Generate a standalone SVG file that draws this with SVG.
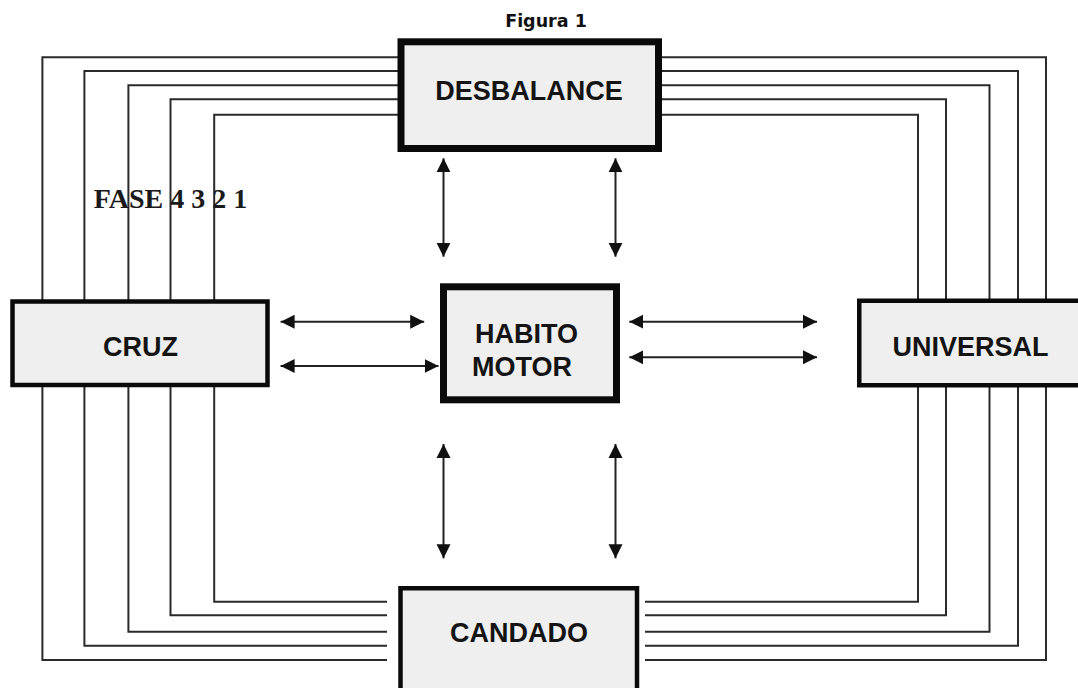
<svg xmlns="http://www.w3.org/2000/svg" width="1078" height="688" viewBox="0 0 1078 688">
  <defs>
    <marker id="ah" markerUnits="userSpaceOnUse" markerWidth="15" markerHeight="15" viewBox="0 0 15 15" refX="14" refY="7.5" orient="auto-start-reverse">
      <path d="M0,0.5 L14,7.5 L0,14.5 Z" fill="#111"/>
    </marker>
  </defs>
  <style>
    .wire { fill: none; stroke: #2a2a2a; stroke-width: 2; }
    .arr { fill: none; stroke: #222; stroke-width: 2; marker-start: url(#ah); marker-end: url(#ah); }
    .box { fill: #efefef; stroke: #0a0a0a; stroke-width: 4.5; }
    .thick { stroke-width: 7; }
    .lbl { font-family: "Liberation Sans", Arial, sans-serif; font-weight: bold; font-size: 27px; fill: #141414; }
  </style>
  <rect width="1078" height="688" fill="#ffffff"/>

  <text x="546" y="27.3" text-anchor="middle" font-family="DejaVu Sans, Verdana, sans-serif" font-weight="bold" font-size="17.5" fill="#111">Figura 1</text>

  <g id="connectors">
    <!-- left phase wires -->
    <path class="wire" d="M398 57.3 H42.4 V660 H387"/>
    <path class="wire" d="M398 71 H84.4 V645.7 H387"/>
    <path class="wire" d="M398 85.3 H128.4 V631.7 H387"/>
    <path class="wire" d="M398 99.3 H170.5 V615.3 H387"/>
    <path class="wire" d="M398 114.7 H214.2 V601.7 H387"/>
    <!-- right phase wires -->
    <path class="wire" d="M660 57.3 H1046 V660 H645" stroke="#555"/>
    <path class="wire" d="M660 71 H1018 V645.7 H645"/>
    <path class="wire" d="M660 85.3 H989.5 V631.7 H645"/>
    <path class="wire" d="M660 99.3 H946 V615.3 H645"/>
    <path class="wire" d="M660 114.7 H918 V601.7 H645"/>
    <!-- double-headed arrows -->
    <line class="arr" x1="443.5" y1="158.3" x2="443.5" y2="256.7"/>
    <line class="arr" x1="615.5" y1="158.3" x2="615.5" y2="256.7"/>
    <line class="arr" x1="443.5" y1="444" x2="443.5" y2="558.3"/>
    <line class="arr" x1="615.5" y1="444" x2="615.5" y2="558.3"/>
    <line class="arr" x1="280.6" y1="321.7" x2="424.2" y2="321.7"/>
    <line class="arr" x1="280.6" y1="366" x2="438.5" y2="366"/>
    <line class="arr" x1="629.3" y1="321.7" x2="817" y2="321.7"/>
    <line class="arr" x1="629.3" y1="357.3" x2="817" y2="357.3"/>
  </g>

  <g id="desbalance">
    <rect class="box thick" x="401" y="41.8" width="257.5" height="106.7"/>
    <text class="lbl" x="529" y="100" text-anchor="middle">DESBALANCE</text>
  </g>

  <g id="habito-motor">
    <rect class="box thick" x="443.5" y="286.8" width="173" height="113"/>
    <text class="lbl" x="475" y="343">HABITO</text>
    <text class="lbl" x="472" y="376">MOTOR</text>
  </g>

  <g id="cruz">
    <rect class="box" x="12.5" y="301.5" width="255" height="83.5"/>
    <text class="lbl" x="140.5" y="356" text-anchor="middle">CRUZ</text>
  </g>

  <g id="universal">
    <rect class="box" x="859.25" y="300.75" width="230" height="84.5"/>
    <text class="lbl" x="892.5" y="356">UNIVERSAL</text>
  </g>

  <g id="candado">
    <rect class="box" x="400.5" y="588.25" width="236.5" height="120"/>
    <text class="lbl" x="519" y="641.7" text-anchor="middle">CANDADO</text>
  </g>

  <text x="93.7" y="208.3" font-family="Liberation Serif, Times New Roman, serif" font-weight="bold" font-size="28" fill="#1a1a1a">FASE 4 3 2 1</text>
</svg>
